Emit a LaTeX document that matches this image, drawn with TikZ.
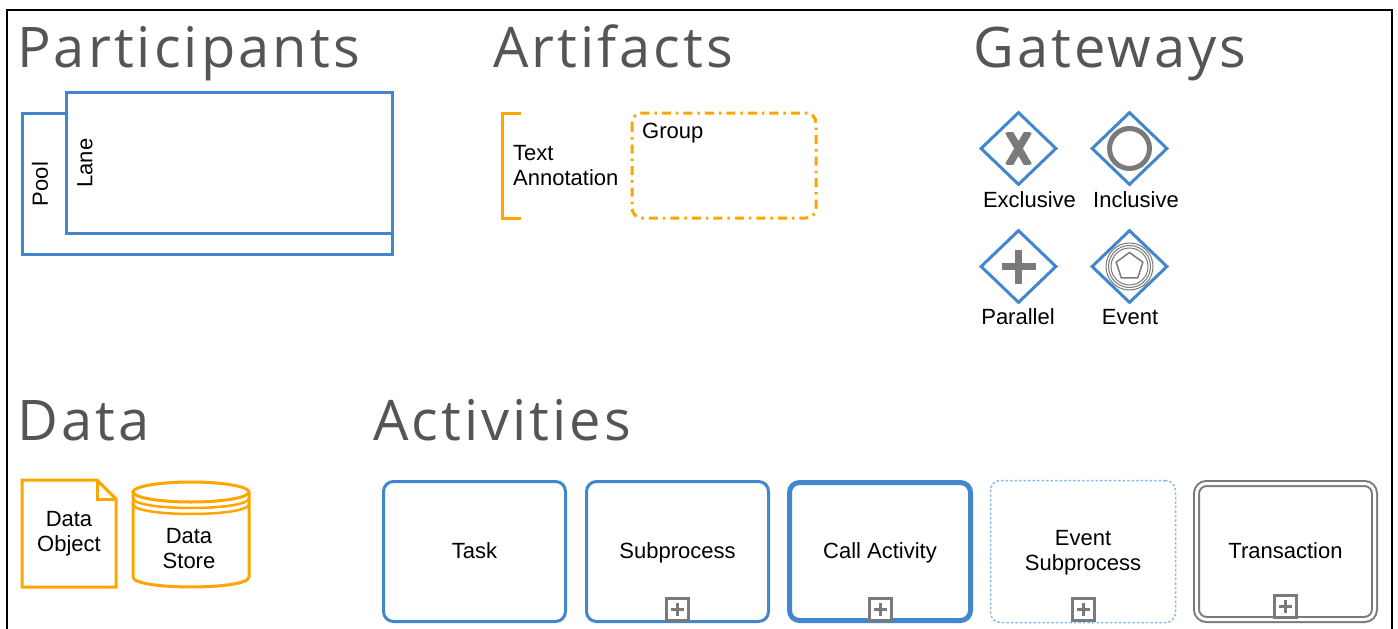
\documentclass[tikz,border=0pt]{standalone}
\usepackage{fontspec}
\setmainfont{Liberation Sans}
\newfontfamily\headfont[LetterSpace=5.5]{Open Sans}
\usetikzlibrary{positioning,shapes.geometric}
\definecolor{bpmnblue}{RGB}{66,135,204}
\definecolor{bpmnorange}{RGB}{255,165,0}
\definecolor{markgray}{RGB}{122,122,122}
\definecolor{headgray}{RGB}{85,85,85}
\definecolor{dotblue}{RGB}{140,185,230}

\begin{document}
\begin{tikzpicture}[x=1pt, y=-1pt,
  heading/.style={anchor=base west, inner sep=0pt, text=headgray,
    font=\headfont\fontsize{56}{60}\selectfont},
  lbl/.style={inner sep=0pt, align=center, font=\fontsize{22}{25}\selectfont},
  actbox/.style={draw=bpmnblue, line width=3pt, rounded corners=10pt,
    minimum width=182pt, minimum height=140pt, inner sep=0pt},
  gate/.style={diamond, draw=bpmnblue, line width=3pt, fill=white,
    minimum width=76pt, minimum height=73pt, inner sep=0pt},
  plusbox/.style={draw=markgray, line width=3pt, fill=white,
    minimum size=22pt, inner sep=0pt, anchor=south}]
\useasboundingbox (0,0) rectangle (1398,629);
% Frame
\draw[line width=2pt] (7,640) -- (7,10) -- (1392,10) -- (1392,640);
% Headings
\node[heading] (hpart) at (17,67) {Participants};
\node[heading] (hart) at (493,67) {Artifacts};
\node[heading] (hgate) at (973,67) {Gateways};
\node[heading] (hdata) at (17,440) {Data};
\node[heading] (hact) at (373,440) {Activities};
% Pool and lane
\draw[bpmnblue, line width=3pt] (22,113) rectangle (392,254);
\draw[bpmnblue, line width=3pt, fill=white] (66,92) rectangle (392,233);
\node[lbl, rotate=90] (pool) at (40,184) {Pool};
\node[lbl, rotate=90] (lane) at (85,163) {Lane};
% Text annotation
\draw[bpmnorange, line width=3pt] (521,113) -- (502,113) -- (502,218) -- (521,218);
\node[lbl, align=left, anchor=north west] (annot) at (513,145) {Text\\Annotation};
% Group
\draw[bpmnorange, line width=3pt, rounded corners=10pt,
  dash pattern=on 9pt off 5pt on 2.5pt off 5pt] (632,113) rectangle (816,218);
\node[lbl, anchor=base west] (grp) at (642,138) {Group};
% Gateways
\node[gate] (excl) at (1018.5,148.5) {};
\node[gate] (incl) at (1129.5,148.5) {};
\node[gate] (para) at (1018.5,266.5) {};
\node[gate] (evnt) at (1129.5,266.5) {};
\begin{scope}
  \clip (excl.center) ++(-17,-16) rectangle ++(34,32);
  \draw[markgray, line width=7.5pt] (excl.center) +(-10,-17) -- +(10,17)
    +(10,-17) -- +(-10,17);
\end{scope}
\draw[markgray, line width=5pt] (incl.center) circle (20);
\draw[markgray, line width=7pt] (para.center) +(-17,0) -- +(17,0) +(0,-17) -- +(0,17);
\foreach \r in {18.5,21,23.5}
  \draw[markgray, line width=1pt] (evnt.center) circle (\r);
\node[regular polygon, regular polygon sides=5, draw=markgray, line width=1.5pt,
  minimum size=28pt, inner sep=0pt] (pent) at (evnt.center) {};
\node[lbl, anchor=base] (lexcl) at (1029.5,207) {Exclusive};
\node[lbl, anchor=base] (lincl) at (1136,207) {Inclusive};
\node[lbl, anchor=base] (lpara) at (1018,324) {Parallel};
\node[lbl, anchor=base] (levnt) at (1130,324) {Event};
% Data object
\draw[bpmnorange, line width=3pt] (22,480) -- (97,480) -- (116,499) -- (116,587)
  -- (22,587) -- cycle;
\draw[bpmnorange, line width=3pt] (97,480) -- (97,499) -- (116,499);
\node[lbl] (dobj) at (69,534) {Data\\Object};
% Data store
\draw[bpmnorange, line width=3pt] (191,492) ellipse (58 and 10);
\draw[bpmnorange, line width=3pt] (133,492) -- (133,577)
  .. controls (133,590.3) and (249,590.3) .. (249,577) -- (249,492);
\draw[bpmnorange, line width=2.5pt] (133,498) .. controls (133,511.3) and (249,511.3) .. (249,498);
\draw[bpmnorange, line width=2.5pt] (133,504) .. controls (133,517.3) and (249,517.3) .. (249,504);
\node[lbl] (dstore) at (189,548.5) {Data\\Store};
% Activities
\node[actbox] (task) at (474.5,551.5) {};
\node[actbox] (subp) at (677.5,551.5) {};
\node[actbox, line width=5pt, minimum width=181pt, minimum height=138pt] (call) at (880,551.5) {};
\node[actbox, draw=dotblue, line width=1.5pt, dash pattern=on 2.5pt off 2pt,
  minimum width=185pt, minimum height=142pt] (esub) at (1083,551.5) {};
\node[actbox, draw=markgray, line width=2pt, double=white, double distance=3pt,
  minimum width=178pt, minimum height=136pt] (trans) at (1285.5,551.5) {};
\node[lbl, anchor=base] (ltask) at (474.5,558) {Task};
\node[lbl, anchor=base] (lsubp) at (677.5,558) {Subprocess};
\node[lbl, anchor=base] (lcall) at (880,558) {Call Activity};
\node[lbl] (lesub) at (1083,552.8) {Event\\Subprocess};
\node[lbl, anchor=base] (ltrans) at (1285.5,558) {Transaction};
% Collapsed markers
\foreach \b in {subp,call,esub,trans} {
  \node[plusbox] (m\b) at ([yshift=1.5pt]\b.south) {};
  \draw[markgray, line width=3pt] (m\b.center) +(-6.5,0) -- +(6.5,0) +(0,-6.5) -- +(0,6.5);
}
\end{tikzpicture}
\end{document}
